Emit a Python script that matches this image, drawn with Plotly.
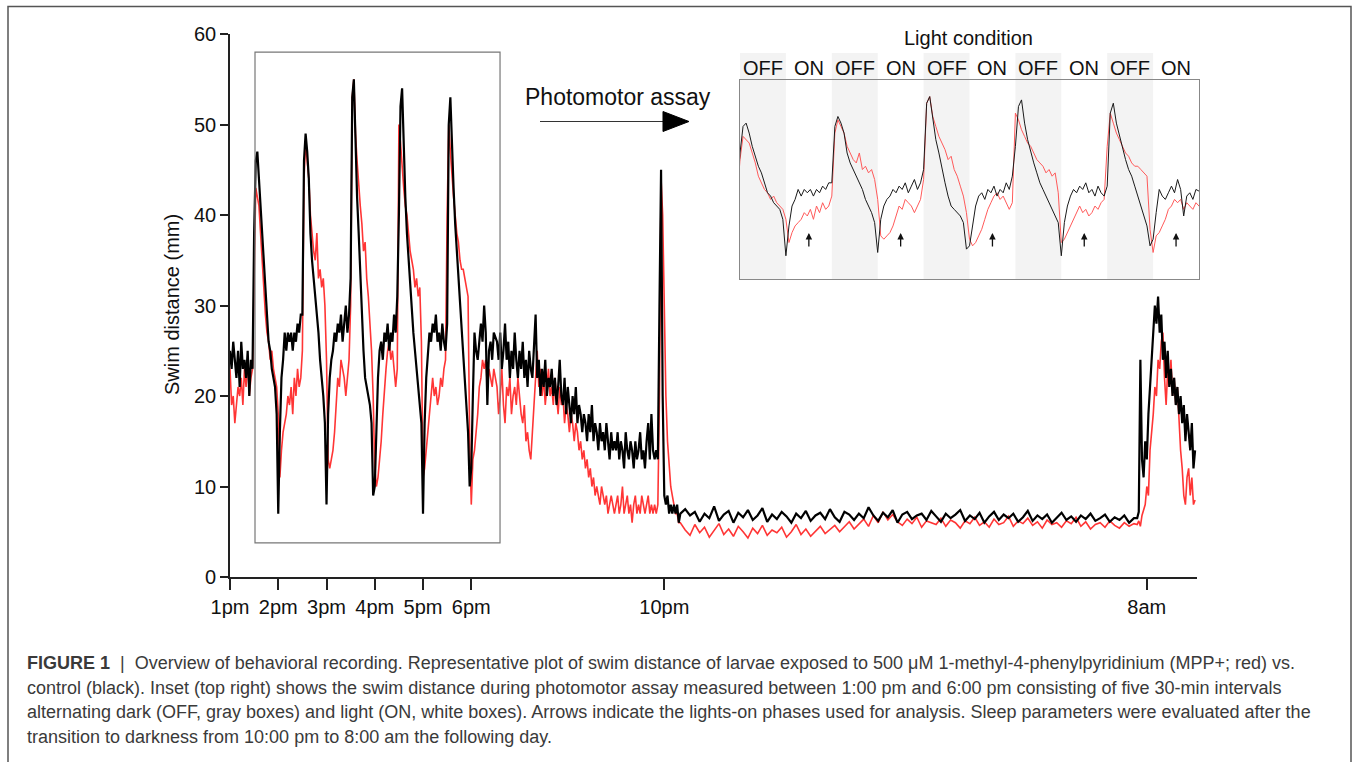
import numpy as np
import plotly.graph_objects as go

# ---------------- DATA (minutes after 1:00 pm) ----------------
# Segment 1: 0..328 min, 2-min bins (photomotor assay period)
black_s1 = [25, 23, 26, 24, 22, 25, 21, 26, 23, 24, 22, 25, 20, 24, 23,
            38, 46, 47, 44, 40, 37, 34, 32, 29, 26, 25, 23, 22, 21, 18,
            7, 16, 22, 24, 27, 25, 27, 26, 27, 25, 27, 26, 28, 27, 29,
            29, 46, 49, 47, 44, 38, 35, 33, 31, 29, 27, 24, 22, 20, 17,
            8, 18, 22, 24, 25, 27, 26, 28, 27, 29, 26, 28, 30, 27, 29,
            33, 53, 55, 48, 42, 38, 33, 29, 25, 22, 21, 20, 19, 17, 9,
            10, 16, 22, 25, 26, 24, 27, 26, 28, 25, 27, 26, 29, 27, 31,
            40, 52, 54, 47, 42, 38, 35, 32, 29, 27, 25, 23, 21, 19, 17,
            7, 17, 22, 25, 27, 26, 28, 27, 29, 26, 27, 25, 28, 26, 25,
            28, 50, 53, 47, 43, 39, 36, 33, 31, 28, 25, 22, 19, 16, 10,
            12, 20, 27, 25, 24, 26, 28, 26, 30, 27, 19, 25, 26, 24, 27]
red_s1 = [23, 19, 20, 17, 19, 21, 20, 22, 19, 23, 21, 24, 20, 22, 23,
          36, 43, 42, 41, 38, 35, 31, 29, 27, 26, 24, 25, 23, 22, 21,
          18, 11, 14, 16, 17, 18, 20, 19, 21, 18, 22, 20, 23, 21, 22,
          25, 44, 48, 46, 44, 40, 38, 36, 35, 38, 33, 34, 32, 33, 30,
          24, 13, 12, 13, 14, 16, 19, 22, 21, 24, 23, 22, 20, 22, 24,
          30, 53, 55, 49, 46, 43, 41, 39, 36, 37, 33, 31, 28, 25, 20,
          12, 10, 11, 13, 15, 18, 21, 23, 25, 26, 24, 25, 23, 21, 23,
          50, 48, 45, 43, 41, 40, 38, 36, 35, 34, 32, 33, 31, 32, 26,
          11, 12, 14, 16, 18, 20, 22, 20, 21, 19, 20, 22, 21, 23, 24,
          40, 50, 47, 44, 42, 40, 38, 37, 35, 34, 34, 33, 32, 31, 15,
          8, 13, 14, 16, 18, 21, 22, 24, 23, 24, 21, 23, 22, 21, 23]

# Segment 2: 332..528 min, 2-min bins (evening decline)
black_s2 = [26, 24, 27, 23, 25, 28, 24, 26, 22, 25, 23, 27, 24, 22, 25,
            23, 26, 22, 24, 21, 25, 23, 22, 26, 29, 22, 24, 20, 23, 21, 24, 20, 22, 21,
            23, 20, 22, 19, 21, 24, 20, 19, 22, 18, 21, 19, 17, 20, 18, 21, 17, 19, 18, 16,
            18, 17, 15, 18, 16, 19, 15, 17, 16, 14, 17, 15, 16, 14, 17, 15, 13, 16, 14, 15,
            14, 16, 13, 15, 14, 12, 16, 14, 13, 15, 14, 12, 15, 13, 14, 16, 13, 14, 12, 15,
            17, 13, 18, 14, 13]
red_s2 = [21, 18, 20, 23, 19, 17, 21, 20, 22, 18, 20, 21, 19, 22, 20,
          18, 17, 19, 15, 16, 14, 13, 16, 19, 22, 25, 21, 23, 20, 22, 19, 21, 23, 20,
          21, 19, 22, 20, 18, 21, 19, 20, 17, 19, 18, 16, 18, 17, 15, 17, 16, 14, 15, 13,
          14, 12, 13, 11, 12, 10, 11, 9, 10, 9, 8, 10, 9, 8, 9, 7, 8, 9, 8, 7,
          8, 9, 7, 8, 10, 7, 8, 9, 7, 8, 6, 8, 9, 7, 8, 7, 9, 8, 7, 8,
          9, 7, 8, 7, 8]

# Segment 3: 530..560 min, 2-min bins (lights-off transition at 10 pm)
black_s3 = [14, 13, 30, 45, 20, 9, 8, 9, 7, 8, 7, 8, 7, 8, 6, 7]
red_s3 = [7, 8, 20, 44, 40, 28, 20, 15, 12, 10, 9, 8, 7, 7, 6, 6]

# Segment 4: 566..1124 min, 6-min bins (night)
black_s4 = [7.5, 6.8, 7.2, 6.1, 7.0, 6.5, 7.8, 6.2, 6.9, 7.3,
            6.0, 7.1, 6.6, 7.4, 6.3, 6.8, 7.6, 6.1, 6.9, 6.4,
            7.2, 6.7, 6.0, 7.0, 6.5, 7.3, 6.2, 6.8, 7.1, 6.4,
            7.5, 6.6, 6.1, 7.2, 6.9, 6.3, 7.0, 6.5, 7.7, 6.8,
            6.2, 7.1, 6.6, 7.4, 6.0, 6.9, 7.2, 6.4, 6.8, 7.0,
            6.3, 7.3, 6.7, 6.1, 7.0, 6.5, 6.9, 7.4, 6.2, 6.8,
            6.4, 7.1, 6.0, 6.7, 7.2, 6.3, 6.9, 6.5, 7.0, 6.1,
            6.6, 7.3, 6.2, 6.8, 6.4, 6.9, 6.0, 6.6, 7.1, 6.3,
            6.7, 6.1, 6.8, 6.4, 7.0, 6.2, 6.5, 6.9, 6.1, 6.6,
            6.3, 6.8, 6.0, 6.5]
red_s4 = [5.2, 4.6, 5.8, 4.9, 5.5, 4.4, 5.1, 5.9, 4.7, 5.3,
          4.5, 5.6, 5.0, 4.3, 5.4, 4.8, 5.7, 4.6, 5.2, 4.9,
          5.5, 4.4, 5.0, 5.8, 4.7, 5.3, 4.5, 5.1, 5.6, 4.8,
          5.2, 5.7, 5.0, 5.5, 6.1, 5.3, 5.9, 6.4, 5.6, 6.8,
          6.0, 7.2, 6.3, 6.9, 6.1, 5.7, 6.4, 5.9, 6.6, 5.5,
          6.2, 6.0, 5.8, 6.5, 5.6, 6.3, 6.0, 5.4, 6.2, 5.9,
          6.6, 5.7, 6.1, 5.5, 6.4, 5.8, 6.0, 6.7, 5.6, 6.2,
          5.9, 6.5, 5.7, 6.1, 5.4, 6.3, 5.8, 6.0, 5.5, 6.2,
          5.9, 6.6, 5.6, 6.1, 5.3, 5.8, 6.0, 5.5, 6.2, 5.7,
          5.4, 6.0, 5.6, 5.9]

# Segment 5: 1128..1200 min, 2-min bins (morning lights-on)
black_s5 = [6.5, 7.2, 24, 13, 11, 15, 13, 18, 21, 25, 27, 30, 28, 31, 27, 29,
            24, 26, 22, 25, 21, 23, 20, 22, 19, 21, 18, 20, 17, 19, 15, 18,
            16, 14, 17, 12, 14]
red_s5 = [5.8, 6.2, 5.6, 6.8, 7.5, 8, 10, 9, 14, 16, 18, 21, 20, 24, 23, 26,
          27, 22, 19, 23, 21, 24, 20, 22, 19, 21, 17, 14, 12, 9, 8, 11, 12,
          9, 11, 8, 8.5]

segments = [(0, 2), (332, 2), (530, 2), (566, 6), (1128, 2)]

tick_vals = [0, 1, 2, 3, 4, 5, 9, 19]
tick_text = ["1pm", "2pm", "3pm", "4pm", "5pm", "6pm", "10pm", "8am"]
y_ticks = [0, 10, 20, 30, 40, 50, 60]
phase_labels = ["OFF", "ON"] * 5


def build(series):
    ts, vs = [], []
    for (start, step), vals in zip(segments, series):
        ts.append((start + step * np.arange(len(vals))) / 60.0)
        vs.append(np.asarray(vals, dtype=float))
    return np.concatenate(ts), np.concatenate(vs)


t_black, v_black = build([black_s1, black_s2, black_s3, black_s4, black_s5])
t_red, v_red = build([red_s1, red_s2, red_s3, red_s4, red_s5])

# ---------------- FIGURE ----------------
W, H = 1354, 762
FONT = "Liberation Sans, Arial, sans-serif"


def px(x):
    return x / W


def py(y):
    return 1 - y / H


fig = go.Figure()
fig.add_trace(go.Scatter(x=t_red, y=v_red, mode="lines",
                         line=dict(color="#ff3535", width=1.6), xaxis="x", yaxis="y"))
fig.add_trace(go.Scatter(x=t_black, y=v_black, mode="lines",
                         line=dict(color="#000000", width=2.2), xaxis="x", yaxis="y"))
fig.add_trace(go.Scatter(x=t_red, y=v_red, mode="lines",
                         line=dict(color="#ff5a5a", width=1), xaxis="x2", yaxis="y2"))
fig.add_trace(go.Scatter(x=t_black, y=v_black, mode="lines",
                         line=dict(color="#1a1a1a", width=1), xaxis="x2", yaxis="y2"))

axis_font = dict(family=FONT, size=20, color="#111")

shapes = []
# OFF (dark) gray boxes in the inset
for k in range(5):
    shapes.append(dict(type="rect", xref="x2", yref="paper",
                       x0=0.5 + k, x1=1.0 + k, y0=py(279), y1=py(53),
                       fillcolor="#f3f3f3", line=dict(width=0), layer="below"))
# rectangle marking the assay window on the main plot
shapes.append(dict(type="rect", xref="x", yref="y", x0=0.518, x1=5.596, y0=3.76, y1=58.0,
                   line=dict(color="#777", width=1.2)))
# photomotor arrow
shapes.append(dict(type="line", xref="paper", yref="paper",
                   x0=px(540), x1=px(665), y0=py(121.5), y1=py(121.5),
                   line=dict(color="#333", width=1.1)))
tri = "M {:.5f},{:.5f} L {:.5f},{:.5f} L {:.5f},{:.5f} Z".format(
    px(663), py(111.5), px(689), py(121.5), px(663), py(131.5))
shapes.append(dict(type="path", xref="paper", yref="paper", path=tri,
                   fillcolor="#000", line=dict(color="#000", width=1)))
# outer figure frame
shapes.append(dict(type="rect", xref="paper", yref="paper",
                   x0=px(8), x1=px(1351), y0=-0.02, y1=py(6.5),
                   line=dict(color="#555", width=1.5)))

ann = []
ann.append(dict(text="Photomotor assay", x=px(618), y=py(97), xref="paper", yref="paper",
                xanchor="center", yanchor="middle",
                showarrow=False, font=dict(family=FONT, size=23, color="#111")))
ann.append(dict(text="Light condition", x=px(968), y=py(38), xref="paper", yref="paper",
                xanchor="center", yanchor="middle",
                showarrow=False, font=dict(family=FONT, size=20, color="#111")))
for k, lab in enumerate(phase_labels):
    ann.append(dict(text=lab, x=0.75 + 0.5 * k, y=py(68), xref="x2", yref="paper",
                    xanchor="center", yanchor="middle",
                    showarrow=False, font=dict(family=FONT, size=20, color="#111")))
for k in range(5):
    ann.append(dict(text="", x=1.25 + k, y=13.9, xref="x2", yref="y2",
                    showarrow=True, ax=0, ay=15, arrowhead=2, arrowsize=1,
                    arrowwidth=1.3, arrowcolor="#111"))
ann.append(dict(text="Swim distance (mm)", x=px(172), y=py(305), xref="paper", yref="paper",
                xanchor="center", yanchor="middle",
                textangle=-90, showarrow=False, font=dict(family=FONT, size=20, color="#111")))

caption = [
    "<b>FIGURE 1</b>  |  Overview of behavioral recording. Representative plot of swim distance of larvae exposed to 500 \u03bcM 1-methyl-4-phenylpyridinium (MPP+; red) vs.",
    "control (black). Inset (top right) shows the swim distance during photomotor assay measured between 1:00 pm and 6:00 pm consisting of five 30-min intervals",
    "alternating dark (OFF, gray boxes) and light (ON, white boxes). Arrows indicate the lights-on phases used for analysis. Sleep parameters were evaluated after the",
    "transition to darkness from 10:00 pm to 8:00 am the following day.",
]
for i, line in enumerate(caption):
    ann.append(dict(text=line, x=px(25), y=py(663 + 24.7 * i), xref="paper", yref="paper",
                    xanchor="left", yanchor="middle", showarrow=False,
                    font=dict(family=FONT, size=18, color="#3a3a3a")))

fig.update_layout(
    width=W, height=H, margin=dict(l=0, r=0, t=0, b=0, pad=0), autosize=False,
    paper_bgcolor="white", plot_bgcolor="rgba(0,0,0,0)", showlegend=False,
    xaxis=dict(domain=[px(230), px(1197)], range=[0, 20.04], tickvals=tick_vals,
               ticktext=tick_text, ticks="outside", ticklen=11, tickwidth=1.5,
               tickcolor="#222", showline=True, linewidth=1.6, linecolor="#222",
               showgrid=False, zeroline=False, tickfont=axis_font, anchor="y",
               automargin=False),
    yaxis=dict(domain=[py(577), py(34)], range=[0, 60], tickvals=y_ticks,
               ticks="outside", ticklen=8, tickwidth=1.5, tickcolor="#222",
               showline=True, linewidth=1.6, linecolor="#222", showgrid=False,
               zeroline=False, tickfont=axis_font, anchor="x", automargin=False),
    xaxis2=dict(domain=[px(740), px(1199)], range=[0.5, 5.5], anchor="y2",
                showticklabels=False, ticks="", showline=True, mirror=True,
                linecolor="#888", linewidth=1, showgrid=False, zeroline=False,
                automargin=False),
    yaxis2=dict(domain=[py(279), py(80)], range=[0, 60], anchor="x2",
                showticklabels=False, ticks="", showline=True, mirror=True,
                linecolor="#888", linewidth=1, showgrid=False, zeroline=False,
                automargin=False),
    shapes=shapes, annotations=ann,
)

fig.write_html("out.html", config={"displayModeBar": False},
               post_script="document.body.style.margin='0px';")
